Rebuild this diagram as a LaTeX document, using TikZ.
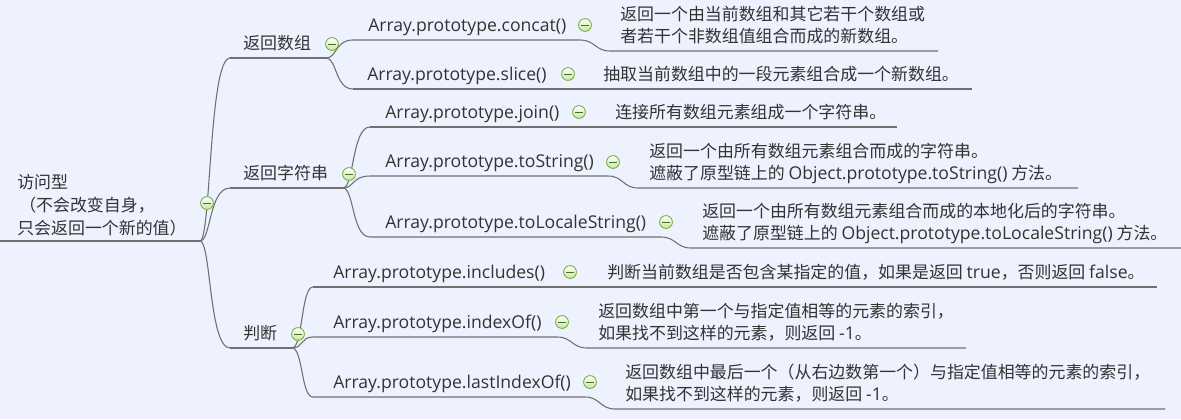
\documentclass[tikz,border=0pt]{standalone}
\usepackage{fontspec}
\setmainfont{Noto Sans CJK SC}
\newfontfamily\lat{Open Sans}[Scale=1.04]
\usetikzlibrary{calc}
\definecolor{bgc}{RGB}{237,242,254}
\definecolor{txt}{RGB}{51,51,51}
\definecolor{lnc}{RGB}{112,112,112}
\definecolor{foldgreen}{RGB}{112,176,50}
\definecolor{foldfill}{RGB}{200,230,165}
\definecolor{foldminus}{RGB}{70,110,40}
\newcommand\mmtwo[2]{\begin{tabular}[t]{@{}l@{}}#1\\#2\end{tabular}}
\newcommand\mmbranch[2]{\draw[ln] let \p1=(#1), \p2=(#2) in (\p1) .. controls (\x1+8.25pt,\y1) and (\x1+6.75pt,\y2) .. (\p2);}
\begin{document}
\begin{tikzpicture}[x=0.75pt,y=-0.75pt,
  ln/.style={draw=lnc,line width=0.8pt},
  lbl/.style={anchor=base west, inner sep=0pt, text=txt, font=\fontsize{12.7}{16.5}\selectfont},
  fold/.style={circle, draw=foldgreen, line width=0.65pt, minimum size=9.6pt, inner sep=0pt,
    top color=white, bottom color=foldfill,
    path picture={\draw[foldminus, line width=0.75pt]
      ([xshift=-2.8pt]path picture bounding box.center) -- ([xshift=2.8pt]path picture bounding box.center);}}]
\fill[bgc] (0,0) rectangle (1181,419);
\useasboundingbox (0,0) rectangle (1181,419);

% ---------- root ----------
\node[lbl, font=\fontsize{12.7}{17.25}\selectfont] (root) at (17,188)
  {\begin{tabular}[t]{@{}l@{}}访问型\\\hspace{1.5pt}（不会改变自身，\\只会返回一个新的值）\end{tabular}};
\coordinate (r0) at (0,241);
\coordinate (r1) at (200,241);
\draw[ln] (r0) -- (r1);

% ---------- level 2 ----------
\coordinate (b1s) at (230,58);  \coordinate (b1e) at (326,58);
\coordinate (b2s) at (230,188); \coordinate (b2e) at (343,188);
\coordinate (b3s) at (230,348); \coordinate (b3e) at (292,348);
\node[lbl] (b1) at (243,49) {返回数组};
\node[lbl] (b2) at (243,179) {返回字符串};
\node[lbl] (b3) at (243,339) {判断};
\draw[ln] (b1s) -- (b1e);
\draw[ln] (b2s) -- (b2e);
\draw[ln] (b3s) -- (b3e);
\mmbranch{r1}{b1s}
\mmbranch{r1}{b2s}
\mmbranch{r1}{b3s}

% ---------- level 3 under 返回数组 ----------
\coordinate (c1s) at (353,40);  \coordinate (c1e) at (580,40);
\coordinate (c1d) at (610,51);  \coordinate (c1f) at (938,51);
\coordinate (c2s) at (353,89);  \coordinate (c2f) at (972,89);
\node[lbl] (c1) at (368,31) {\lat Array.prototype.concat()};
\node[lbl] (c2) at (367,80) {\lat Array.prototype.slice()};
\node[lbl] (d1) at (620,20) {\mmtwo{返回一个由当前数组和其它若干个数组或}{者若干个非数组值组合而成的新数组。}};
\node[lbl] (d2) at (603,80) {抽取当前数组中的一段元素组合成一个新数组。};
\draw[ln] (c1s) -- (c1e) .. controls (595,40) and (595,51) .. (c1d) -- (c1f);
\draw[ln] (c2s) -- (c2f);
\mmbranch{b1e}{c1s}
\mmbranch{b1e}{c2s}

% ---------- level 3 under 返回字符串 ----------
\coordinate (c3s) at (370,127); \coordinate (c3f) at (897,127);
\coordinate (c4s) at (370,176); \coordinate (c4e) at (608,176);
\coordinate (c4d) at (638,188); \coordinate (c4f) at (1078,188);
\coordinate (c5s) at (370,237); \coordinate (c5e) at (661,237);
\coordinate (c5d) at (691,248); \coordinate (c5f) at (1181,248);
\node[lbl] (c3) at (385,118) {\lat Array.prototype.join()};
\node[lbl] (c4) at (385,167.5) {\lat Array.prototype.toString()};
\node[lbl] (c5) at (385,228) {\lat Array.prototype.toLocaleString()};
\node[lbl] (d3) at (615,118) {连接所有数组元素组成一个字符串。};
\node[lbl] (d4) at (649,157) {\mmtwo{返回一个由所有数组元素组合而成的字符串。}{遮蔽了原型链上的 {\lat Object.prototype.toString()} 方法。}};
\node[lbl] (d5) at (702,217) {\mmtwo{返回一个由所有数组元素组合而成的本地化后的字符串。}{遮蔽了原型链上的 {\lat Object.prototype.toLocaleString()} 方法。}};
\draw[ln] (c3s) -- (c3f);
\draw[ln] (c4s) -- (c4e) .. controls (623,176) and (623,188) .. (c4d) -- (c4f);
\draw[ln] (c5s) -- (c5e) .. controls (676,237) and (676,248) .. (c5d) -- (c5f);
\mmbranch{b2e}{c3s}
\mmbranch{b2e}{c4s}
\mmbranch{b2e}{c5s}

% ---------- level 3 under 判断 ----------
\coordinate (c6s) at (313,287); \coordinate (c6f) at (1157,287);
\coordinate (c7s) at (313,337); \coordinate (c7e) at (557,337);
\coordinate (c7d) at (587,348); \coordinate (c7f) at (966,348);
\coordinate (c8s) at (313,397); \coordinate (c8e) at (585,397);
\coordinate (c8d) at (615,409); \coordinate (c8f) at (1165,409);
\node[lbl] (c6) at (333,278) {\lat Array.prototype.includes()};
\node[lbl] (c7) at (333,328) {\lat Array.prototype.indexOf()};
\node[lbl] (c8) at (333,388) {\lat Array.prototype.lastIndexOf()};
\node[lbl] (d6) at (607,278) {判断当前数组是否包含某指定的值，如果是返回 {\lat true}，否则返回 {\lat false}。};
\node[lbl] (d7) at (598,317) {\mmtwo{返回数组中第一个与指定值相等的元素的索引，}{如果找不到这样的元素，则返回 {\lat -1}。}};
\node[lbl] (d8) at (625,378) {\mmtwo{返回数组中最后一个（从右边数第一个）与指定值相等的元素的索引，}{如果找不到这样的元素，则返回 {\lat -1}。}};
\draw[ln] (c6s) -- (c6f);
\draw[ln] (c7s) -- (c7e) .. controls (572,337) and (572,348) .. (c7d) -- (c7f);
\draw[ln] (c8s) -- (c8e) .. controls (600,397) and (600,409) .. (c8d) -- (c8f);
\mmbranch{b3e}{c6s}
\mmbranch{b3e}{c7s}
\mmbranch{b3e}{c8s}

% ---------- collapse markers ----------
\node[fold] (f0) at (207,203) {};
\node[fold] (f1) at (332,44) {};
\node[fold] (f2) at (349,174) {};
\node[fold] (f3) at (298,334) {};
\node[fold] (g1) at (585,25) {};
\node[fold] (g2) at (568,74) {};
\node[fold] (g3) at (579,112) {};
\node[fold] (g4) at (613,162) {};
\node[fold] (g5) at (666,222) {};
\node[fold] (g6) at (570,272) {};
\node[fold] (g7) at (562,322) {};
\node[fold] (g8) at (590,382) {};
\end{tikzpicture}
\end{document}
